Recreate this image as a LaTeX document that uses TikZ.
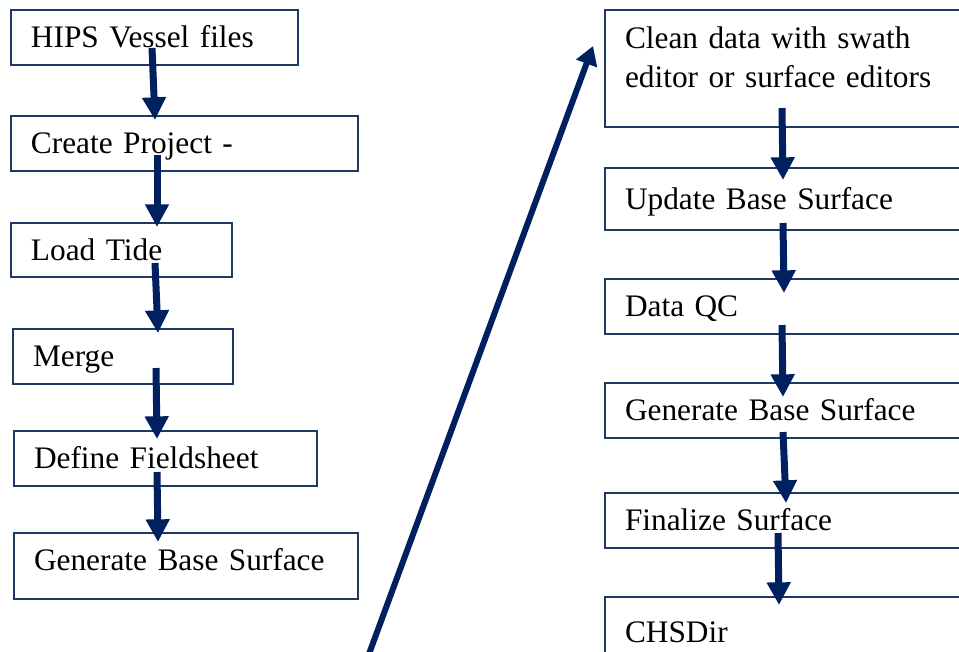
\documentclass[tikz,border=0pt]{standalone}
\usepackage{fontspec}
\setmainfont{Liberation Serif}
\usetikzlibrary{arrows.meta,calc}
\definecolor{navy}{HTML}{002060}
\definecolor{boxline}{HTML}{1F3864}
\newdimen\pxu \pxu=0.75pt
\tikzset{
	stepbox/.style = {draw=boxline, line width=1.5pt, anchor=north west,
		inner xsep=15pt, align=left, font=\fontsize{23.5}{29}\selectfont,
		text height=16pt, text depth=0.5pt},
	flow/.style = {navy, line width=5.25pt, -{Triangle[width=17pt,length=17pt]}},
	back/.style = {navy, line width=4.5pt, -{Triangle[width=16pt,length=14pt]}}
}
\begin{document}
\begin{tikzpicture}[x=0.75pt, y=-0.75pt]
	\useasboundingbox (0,0) rectangle (959,651);

	% left column
	\node[stepbox, text width=247\pxu, minimum height=55\pxu] (hips) at (10,9) {HIPS Vessel files};
	\node[stepbox, text width=307\pxu, minimum height=55\pxu] (proj) at (10,115) {Create Project -};
	\node[stepbox, text width=181\pxu, minimum height=54\pxu] (tide) at (10,222) {Load Tide};
	\node[stepbox, text width=180\pxu, minimum height=55\pxu] (merge) at (12,328) {Merge};
	\node[stepbox, text width=263\pxu, minimum height=55\pxu] (field) at (13,430) {Define Fieldsheet};
	\node[stepbox, text width=304\pxu, minimum height=66\pxu, text depth=9pt] (gbs) at (13,532) {Generate Base Surface};

	% right column
	\node[stepbox, text width=340\pxu, minimum height=117\pxu, text depth=45.5pt] (clean) at (604,9) {Clean data with swath\\editor or surface editors};
	\node[stepbox, text width=340\pxu, minimum height=62\pxu] (update) at (604,167) {Update Base Surface};
	\node[stepbox, text width=340\pxu, minimum height=55\pxu] (qc) at (604,278) {Data QC};
	\node[stepbox, text width=340\pxu, minimum height=55\pxu] (gbs2) at (604,382) {Generate Base Surface};
	\node[stepbox, text width=340\pxu, minimum height=55\pxu] (final) at (604,492) {Finalize Surface};
	\node[stepbox, text width=340\pxu, minimum height=70\pxu] (chs) at (604,596) {CHSDir};

	\draw[flow] ($(hips.north west)+(142,39)$) -- ($(proj.north west)+(145,5)$);
	\draw[flow] ($(proj.north west)+(147,40)$) -- ($(tide.north west)+(147,5)$);
	\draw[flow] ($(tide.north west)+(145,41)$) -- ($(merge.north west)+(146,5)$);
	\draw[flow] ($(merge.north west)+(144,40)$) -- ($(field.north west)+(144,9)$);
	\draw[flow] ($(field.north west)+(144,42)$) -- ($(gbs.north west)+(145,10)$);

	\draw[flow] ($(clean.north west)+(178,99)$) -- ($(update.north west)+(179,13)$);
	\draw[flow] ($(update.north west)+(179,56)$) -- ($(qc.north west)+(180,15)$);
	\draw[flow] ($(qc.north west)+(178,47)$) -- ($(gbs2.north west)+(179,15)$);
	\draw[flow] ($(gbs2.north west)+(179,50)$) -- ($(final.north west)+(182,11)$);
	\draw[flow] ($(final.north west)+(174,41)$) -- ($(chs.north west)+(175,9)$);

	\coordinate (low) at (366,662);
	\coordinate (up) at (593,46);
	\draw[back] (low) -- (up);
\end{tikzpicture}
\end{document}
